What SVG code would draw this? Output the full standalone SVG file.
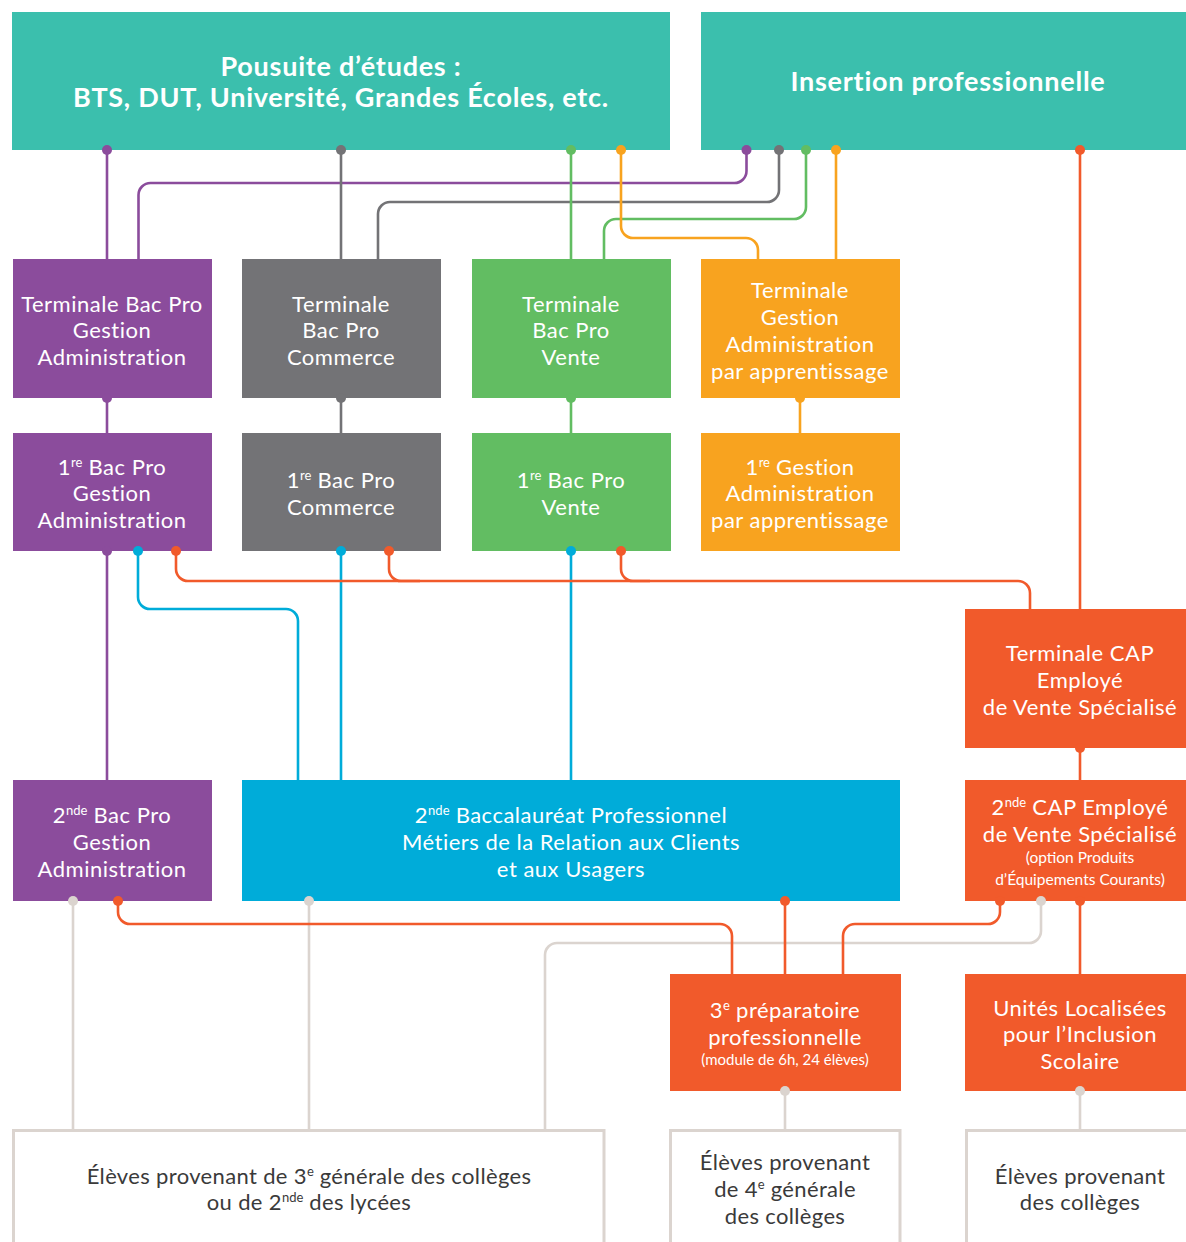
<svg xmlns="http://www.w3.org/2000/svg" width="1186" height="1242" viewBox="0 0 1186 1242">
<style>
text{font-family:Lato,"Liberation Sans",sans-serif;text-anchor:middle;}
.w{fill:#fff;font-size:22px;letter-spacing:0.5px;}
.t{fill:#fff;font-size:27px;font-weight:bold;letter-spacing:0.75px;}
.s{fill:#fff;font-size:15.5px;}
.d{fill:#3a3a3a;font-size:22px;letter-spacing:0.35px;}
.sup{font-size:13px;letter-spacing:0;}
.ln{fill:none;stroke-width:2.6;}
.pu{stroke:#8b4c9c}.gy{stroke:#737376}.gr{stroke:#62bd62}.or{stroke:#f8a31f}.rd{stroke:#f15a2b}.bl{stroke:#00acd9}.lg{stroke:#dbd4cf}
.bx{fill:#fff;stroke:#dbd4cf;stroke-width:3;}
</style>
<rect width="1186" height="1242" fill="#fff"/>
<g id="connectors">
<path class="ln pu" d="M107,150 V259"/>
<path class="ln pu" d="M746.5,150 V171 A12 12 0 0 1 734.5,183 H150.5 A12 12 0 0 0 138.5,195 V259"/>
<path class="ln gy" d="M341,150 V259"/>
<path class="ln gy" d="M779,150 V190 A12 12 0 0 1 767,202 H390 A12 12 0 0 0 378,214 V259"/>
<path class="ln gr" d="M571,150 V259"/>
<path class="ln gr" d="M806,150 V207 A12 12 0 0 1 794,219 H616 A12 12 0 0 0 604,231 V259"/>
<path class="ln or" d="M621,150 V226 A12 12 0 0 0 633,238 H746 A12 12 0 0 1 758,250 V259"/>
<path class="ln or" d="M836,150 V259"/>
<path class="ln rd" d="M1080,150 V609"/>
<path class="ln pu" d="M107,398 V433"/>
<path class="ln gy" d="M341,398 V433"/>
<path class="ln gr" d="M571,398 V433"/>
<path class="ln or" d="M800,398 V433"/>
<path class="ln pu" d="M107,551 V780"/>
<path class="ln bl" d="M138,551 V597 A12 12 0 0 0 150,609 H286 A12 12 0 0 1 298,621 V780"/>
<path class="ln bl" d="M341,551 V780"/>
<path class="ln bl" d="M571,551 V780"/>
<path class="ln rd" d="M176,551 V569 A12 12 0 0 0 188,581 H1018 A12 12 0 0 1 1030,593 V609"/>
<path class="ln rd" d="M389,551 V569 A12 12 0 0 0 401,581 H420"/>
<path class="ln rd" d="M621,551 V569 A12 12 0 0 0 633,581 H650"/>
<path class="ln rd" d="M1080,748 V780"/>
<path class="ln lg" d="M73,901 V1129"/>
<path class="ln lg" d="M309,901 V1129"/>
<path class="ln lg" d="M1041,901 V931 A12 12 0 0 1 1029,943 H557 A12 12 0 0 0 545,955 V1129"/>
<path class="ln rd" d="M118,901 V912 A12 12 0 0 0 130,924 H720 A12 12 0 0 1 732,936 V974"/>
<path class="ln rd" d="M785,901 V974"/>
<path class="ln rd" d="M1000,901 V912 A12 12 0 0 1 988,924 H855 A12 12 0 0 0 843,936 V974"/>
<path class="ln rd" d="M1080,901 V974"/>
<path class="ln lg" d="M785,1091 V1129"/>
<path class="ln lg" d="M1080,1091 V1129"/>
</g>
<g id="n-poursuite"><rect x="12" y="12" width="658" height="138" fill="#3bbfad"/>
<text class="t" x="341" y="76">Pousuite d’études :</text>
<text class="t" x="341" y="107">BTS, DUT, Université, Grandes Écoles, etc.</text></g>
<g id="n-insertion"><rect x="701" y="12" width="485" height="138" fill="#3bbfad"/>
<text class="t" x="948" y="91">Insertion professionnelle</text></g>
<g id="n-term-ga"><rect x="13" y="259" width="199" height="139" fill="#8b4c9c"/>
<text class="w" x="112" y="312">Terminale Bac Pro</text><text class="w" x="112" y="338">Gestion</text><text class="w" x="112" y="365">Administration</text></g>
<g id="n-term-com"><rect x="242" y="259" width="199" height="139" fill="#737376"/>
<text class="w" x="341" y="312">Terminale</text><text class="w" x="341" y="338">Bac Pro</text><text class="w" x="341" y="365">Commerce</text></g>
<g id="n-term-vente"><rect x="472" y="259" width="199" height="139" fill="#62bd62"/>
<text class="w" x="571" y="312">Terminale</text><text class="w" x="571" y="338">Bac Pro</text><text class="w" x="571" y="365">Vente</text></g>
<g id="n-term-app"><rect x="701" y="259" width="199" height="139" fill="#f8a31f"/>
<text class="w" x="800" y="298">Terminale</text><text class="w" x="800" y="325">Gestion</text><text class="w" x="800" y="352">Administration</text><text class="w" x="800" y="379">par apprentissage</text></g>
<g id="n-1-ga"><rect x="13" y="433" width="199" height="118" fill="#8b4c9c"/>
<text class="w" x="112" y="475">1<tspan class="sup" dy="-8">re</tspan><tspan dy="8"> Bac Pro</tspan></text><text class="w" x="112" y="501">Gestion</text><text class="w" x="112" y="528">Administration</text></g>
<g id="n-1-com"><rect x="242" y="433" width="199" height="118" fill="#737376"/>
<text class="w" x="341" y="488">1<tspan class="sup" dy="-8">re</tspan><tspan dy="8"> Bac Pro</tspan></text><text class="w" x="341" y="515">Commerce</text></g>
<g id="n-1-vente"><rect x="472" y="433" width="199" height="118" fill="#62bd62"/>
<text class="w" x="571" y="488">1<tspan class="sup" dy="-8">re</tspan><tspan dy="8"> Bac Pro</tspan></text><text class="w" x="571" y="515">Vente</text></g>
<g id="n-1-app"><rect x="701" y="433" width="199" height="118" fill="#f8a31f"/>
<text class="w" x="800" y="475">1<tspan class="sup" dy="-8">re</tspan><tspan dy="8"> Gestion</tspan></text><text class="w" x="800" y="501">Administration</text><text class="w" x="800" y="528">par apprentissage</text></g>
<g id="n-term-cap"><rect x="965" y="609" width="221" height="139" fill="#f15a2b"/>
<text class="w" x="1080" y="661">Terminale CAP</text><text class="w" x="1080" y="688">Employé</text><text class="w" x="1080" y="715">de Vente Spécialisé</text></g>
<g id="n-2-ga"><rect x="13" y="780" width="199" height="121" fill="#8b4c9c"/>
<text class="w" x="112" y="823">2<tspan class="sup" dy="-8">nde</tspan><tspan dy="8"> Bac Pro</tspan></text><text class="w" x="112" y="850">Gestion</text><text class="w" x="112" y="877">Administration</text></g>
<g id="n-2-mrc"><rect x="242" y="780" width="658" height="121" fill="#00acd9"/>
<text class="w" x="571" y="823">2<tspan class="sup" dy="-8">nde</tspan><tspan dy="8"> Baccalauréat Professionnel</tspan></text><text class="w" x="571" y="850">Métiers de la Relation aux Clients</text><text class="w" x="571" y="877">et aux Usagers</text></g>
<g id="n-2-cap"><rect x="965" y="780" width="221" height="121" fill="#f15a2b"/>
<text class="w" x="1080" y="815">2<tspan class="sup" dy="-8">nde</tspan><tspan dy="8"> CAP Employé</tspan></text><text class="w" x="1080" y="842">de Vente Spécialisé</text>
<text class="s" x="1080" y="863">(option Produits</text><text class="s" x="1080" y="885">d’Équipements Courants)</text></g>
<g id="n-3prep"><rect x="670" y="974" width="231" height="117" fill="#f15a2b"/>
<text class="w" x="785" y="1018">3<tspan class="sup" dy="-8">e</tspan><tspan dy="8"> préparatoire</tspan></text><text class="w" x="785" y="1045">professionnelle</text>
<text class="s" x="785" y="1065" style="font-size:15px">(module de 6h, 24 élèves)</text></g>
<g id="n-ulis"><rect x="965" y="974" width="221" height="117" fill="#f15a2b"/>
<text class="w" x="1080" y="1016">Unités Localisées</text><text class="w" x="1080" y="1042">pour l’Inclusion</text><text class="w" x="1080" y="1069">Scolaire</text></g>
<g id="n-eleves-3"><path class="bx" d="M13.5,1244 V1130.5 H604 V1244"/>
<text class="d" x="309" y="1184">Élèves provenant de 3<tspan class="sup" dy="-8">e</tspan><tspan dy="8"> générale des collèges</tspan></text>
<text class="d" x="309" y="1210">ou de 2<tspan class="sup" dy="-8">nde</tspan><tspan dy="8"> des lycées</tspan></text></g>
<g id="n-eleves-4"><path class="bx" d="M670.5,1244 V1130.5 H900 V1244"/>
<text class="d" x="785" y="1170">Élèves provenant</text>
<text class="d" x="785" y="1197">de 4<tspan class="sup" dy="-8">e</tspan><tspan dy="8"> générale</tspan></text>
<text class="d" x="785" y="1224">des collèges</text></g>
<g id="n-eleves-col"><path class="bx" d="M966.5,1244 V1130.5 H1190"/>
<text class="d" x="1080" y="1184">Élèves provenant</text>
<text class="d" x="1080" y="1210">des collèges</text></g>
<g id="dots">
<circle cx="107" cy="150" r="5" fill="#8b4c9c"/><circle cx="341" cy="150" r="5" fill="#737376"/><circle cx="571" cy="150" r="5" fill="#62bd62"/><circle cx="621" cy="150" r="5" fill="#f8a31f"/>
<circle cx="746.5" cy="150" r="5" fill="#8b4c9c"/><circle cx="779" cy="150" r="5" fill="#737376"/><circle cx="806" cy="150" r="5" fill="#62bd62"/><circle cx="836" cy="150" r="5" fill="#f8a31f"/><circle cx="1080" cy="150" r="5" fill="#f15a2b"/>
<circle cx="107" cy="398" r="5" fill="#8b4c9c"/><circle cx="341" cy="398" r="5" fill="#737376"/><circle cx="571" cy="398" r="5" fill="#62bd62"/><circle cx="800" cy="398" r="5" fill="#f8a31f"/>
<circle cx="107" cy="551" r="5" fill="#8b4c9c"/><circle cx="138" cy="551" r="5" fill="#00acd9"/><circle cx="176" cy="551" r="5" fill="#f15a2b"/><circle cx="341" cy="551" r="5" fill="#00acd9"/><circle cx="389" cy="551" r="5" fill="#f15a2b"/><circle cx="571" cy="551" r="5" fill="#00acd9"/><circle cx="621" cy="551" r="5" fill="#f15a2b"/>
<circle cx="1080" cy="748" r="5" fill="#f15a2b"/>
<circle cx="73" cy="901" r="5" fill="#dbd4cf"/><circle cx="118" cy="901" r="5" fill="#f15a2b"/><circle cx="309" cy="901" r="5" fill="#dbd4cf"/><circle cx="785" cy="901" r="5" fill="#f15a2b"/><circle cx="1000" cy="901" r="5" fill="#f15a2b"/><circle cx="1041" cy="901" r="5" fill="#dbd4cf"/><circle cx="1080" cy="901" r="5" fill="#f15a2b"/>
<circle cx="785" cy="1091" r="5" fill="#dbd4cf"/><circle cx="1080" cy="1091" r="5" fill="#dbd4cf"/>
</g>
</svg>
